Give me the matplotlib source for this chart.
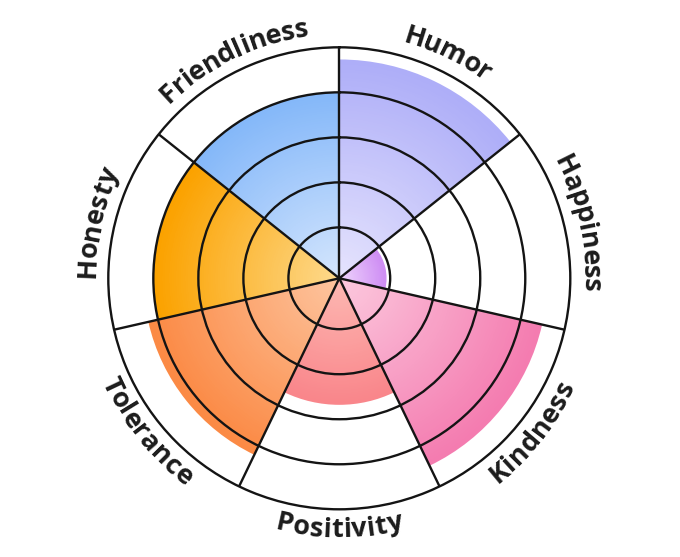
import numpy as np
import matplotlib
matplotlib.use("Agg")
import matplotlib.pyplot as plt
from matplotlib.colors import LinearSegmentedColormap
from matplotlib.font_manager import FontProperties

# sectors clockwise from 12 o'clock
traits = ["Humor", "Happiness", "Kindness", "Positivity",
          "Tolerance", "Honesty", "Friendliness"]
scores = [4.73, 0.92, 4.49, 2.68, 4.22, 4.0, 4.0]
inner_colors = ["#e6e4fd", "#efd6fc", "#fcc9de", "#fdb9b3",
                "#fdc5a0", "#fdda8e", "#d5e6fd"]
outer_colors = ["#aeaef8", "#cf8ff4", "#f47cb0", "#f9868b",
                "#fb8a45", "#fba200", "#85b8f9"]
rings = [1, 2, 3, 4]

R_MIN, R_MAX = -0.13, 5
LINE = "#141414"
W, H, DPI = 680, 557, 100

fig = plt.figure(figsize=(W / DPI, H / DPI), dpi=DPI)
cx, cy, rad = 339.3, 557 - 278.3, 231.0
ax = fig.add_axes([(cx - rad) / W, (cy - rad) / H, 2 * rad / W, 2 * rad / H],
                  projection="polar")
ax.set_theta_zero_location("N")
ax.set_theta_direction(-1)
ax.set_ylim(R_MIN, R_MAX)

n = len(traits)
step = 2 * np.pi / n
edges = np.arange(n + 1) * step
mids = edges[:-1] + step / 2

# wedges: solid bar (smooth outline), then a radial gradient mesh just inside it
ax.bar(mids, np.array(scores) - R_MIN, width=step, bottom=R_MIN,
       color=outer_colors, edgecolor="none", zorder=1)
for i, val in enumerate(scores):
    cmap = LinearSegmentedColormap.from_list(traits[i],
                                             [inner_colors[i], outer_colors[i]])
    top = val - 0.05
    th = np.linspace(edges[i], edges[i + 1], 61)
    rr = np.linspace(R_MIN, top, 81)
    T, RR = np.meshgrid(th, rr)
    C = (RR[1:, :-1] - R_MIN) / (top - R_MIN)
    ax.pcolormesh(T, RR, C, cmap=cmap, vmin=0, vmax=1,
                  shading="flat", antialiased=False, zorder=1.1)

ax.set_rgrids(rings, labels=[])
ax.set_thetagrids(np.degrees(edges[:-1]), labels=[])
ax.grid(True, color=LINE, linewidth=1.7)
ax.set_axisbelow(False)
ax.spines["polar"].set_color(LINE)
ax.spines["polar"].set_linewidth(1.7)
ax.tick_params(length=0)

# curved labels, one glyph at a time along the rim
prop = FontProperties(family="Open Sans", weight="bold", size=19.5)
renderer = fig.canvas.get_renderer()
px_per_unit = rad / (R_MAX - R_MIN)


def text_width(s):
    if not s:
        return 0.0
    return renderer.get_text_width_height_descent(s, prop, ismath=False)[0]


def to_r(px):
    return R_MIN + px / px_per_unit


for label, phi in zip(traits, mids):
    upper = np.cos(phi) > 0
    total = text_width(label)
    base = 244 if upper else 259
    r_mid = base + 9 if upper else base - 9
    for k, ch in enumerate(label):
        s = (text_width(label[:k]) + text_width(label[:k + 1])) / 2 - total / 2
        if upper:
            ang = phi + s / r_mid
            rot = -np.degrees(ang)
        else:
            ang = phi - s / r_mid
            rot = 180 - np.degrees(ang)
        rot = (rot + 180) % 360 - 180
        ax.text(ang, to_r(base), ch, fontproperties=prop, color="#1c1c1c",
                ha="center", va="baseline", rotation=rot,
                rotation_mode="anchor", clip_on=False)

fig.savefig("out.png", dpi=DPI, facecolor="white")
